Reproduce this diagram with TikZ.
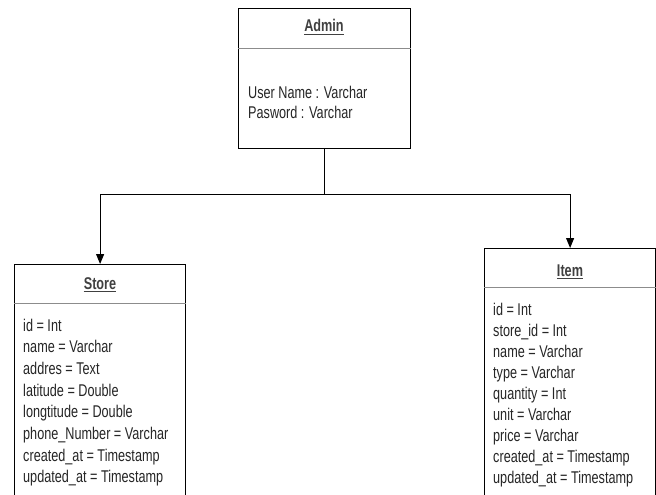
\documentclass[tikz,border=0pt]{standalone}
\usepackage{fontspec}
\setmainfont{Liberation Sans}[FakeStretch=0.745]
\usetikzlibrary{arrows.meta}
\begin{document}
\begin{tikzpicture}[x=1pt,y=-1pt,
  box/.style={draw=black, line width=1.2pt, fill=white, inner sep=0pt, anchor=north west},
  divider/.style={draw=black!45, line width=0.8pt},
  title/.style={font=\fontsize{17}{20}\selectfont\bfseries, text=black!75, anchor=base, inner sep=0pt},
  uline/.style={draw=black!75, line width=0.8pt},
  attr/.style={font=\fontsize{17}{21}\selectfont, text=black!85, anchor=base west, inner sep=0pt},
  conn/.style={line width=1pt, draw=black},
  arr/.style={conn, -{Triangle[length=10pt,width=8pt]}}]
\useasboundingbox (0,0) rectangle (656,495);
\clip (0,0) rectangle (656,495);
\fill[white] (0,0) rectangle (656,495);
% boxes
\node[box, minimum width=172pt, minimum height=140pt] (admin) at (238,8) {};
\node[box, minimum width=171pt, minimum height=250pt] (store) at (14,264) {};
\node[box, minimum width=171pt, minimum height=260pt] (item) at (484,248) {};
% dividers
\draw[divider] ([yshift=-40pt]admin.north west) -- ([yshift=-40pt]admin.north east);
\draw[divider] ([yshift=-39pt]store.north west) -- ([yshift=-39pt]store.north east);
\draw[divider] ([yshift=-39pt]item.north west) -- ([yshift=-39pt]item.north east);
% titles
\node[title] (tadmin) at (324,32) {Admin};
\node[title] (tstore) at (100,289) {Store};
\node[title] (titem) at (570,276) {Item};
\foreach \n in {tadmin,tstore,titem}
  \draw[uline] ([yshift=-2.5pt]\n.base west) -- ([yshift=-2.5pt]\n.base east);
% admin attributes
\node[attr] (a1) at (248,98) {User Name : Varchar};
\node[attr] (a2) at (248,118.5) {Pasword : Varchar};
% store attributes
\foreach \t [count=\i] in {id = Int, name = Varchar, addres = Text, latitude = Double,
  longtitude = Double, phone\_Number = Varchar, created\_at = Timestamp, updated\_at = Timestamp}
  \node[attr] (s\i) at (23,{331+(\i-1)*21.7}) {\t};
% item attributes
\foreach \t [count=\i] in {id = Int, store\_id = Int, name = Varchar, type = Varchar,
  quantity = Int, unit = Varchar, price = Varchar, created\_at = Timestamp, updated\_at = Timestamp}
  \node[attr] (it\i) at (493,{315.5+(\i-1)*20.95}) {\t};
% connectors
\draw[conn] (admin.south) -- ++(0,45) coordinate (j);
\draw[arr] (j) -| (store.north);
\draw[arr] (j) -| (item.north);
\end{tikzpicture}
\end{document}
